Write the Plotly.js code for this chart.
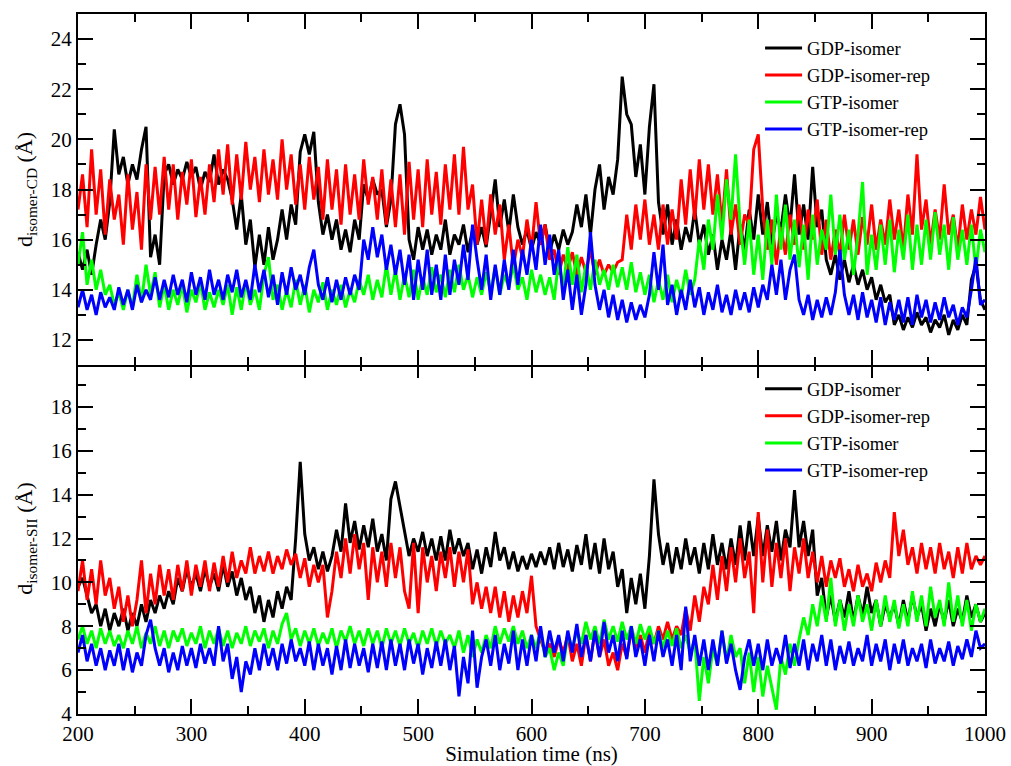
<!DOCTYPE html>
<html>
<head>
<meta charset="utf-8">
<script src="https://cdn.plot.ly/plotly-3.0.1.min.js"></script>
<style>html,body{margin:0;padding:0;background:#fff;}#chart{width:1011px;height:766px;}</style>
</head>
<body>
<div id="chart"></div>
<script>
// Sampling of the time axis (ns)
const tStart = 200;
const tStep = 4;

const seriesNames = ["GDP-isomer", "GDP-isomer-rep", "GTP-isomer", "GTP-isomer-rep"];
const seriesColors = ["#000000", "#ff0000", "#00ff00", "#0000ff"];

// ---------- Top panel: d isomer-CD (Å) ----------
const cdGDP = [
15.5,14.8,15.6,14.6,15.8,16.8,16.0,17.5,20.4,18.6,
19.3,18.2,19.0,18.4,19.6,20.5,15.3,16.2,15.0,18.6,
19.0,18.2,18.8,18.4,19.1,18.5,18.9,18.0,18.7,18.3,
19.4,18.2,18.8,18.4,17.6,16.4,17.8,15.8,16.8,14.9,
16.2,15.0,16.5,15.2,16.0,17.2,16.0,17.4,16.6,19.5,
20.2,19.4,20.3,17.5,16.2,17.0,16.0,16.8,15.6,16.4,
15.5,16.8,16.0,18.2,17.6,18.4,17.8,18.0,16.5,17.6,
20.6,21.4,20.2,16.0,15.2,16.5,15.6,16.4,15.4,16.2,
15.6,16.8,15.4,16.2,15.8,16.6,15.5,16.4,15.8,16.5,
15.7,17.0,18.4,16.5,17.6,16.3,17.8,16.5,15.8,16.4,
15.6,16.3,15.8,16.6,15.5,16.2,15.6,16.4,15.8,16.3,
17.4,16.5,17.8,16.2,18.0,19.0,17.2,18.5,17.8,19.2,
22.5,21.0,20.6,18.5,19.8,17.8,20.5,22.2,17.5,16.2,
17.4,15.8,16.8,15.6,16.5,15.9,17.2,15.8,16.6,15.4,
16.2,14.8,16.0,15.2,16.4,14.8,16.6,15.6,17.2,16.0,
17.8,16.2,17.5,15.8,17.0,16.4,17.8,16.5,18.6,16.2,
17.4,16.0,18.9,16.5,17.2,15.2,14.6,15.4,14.4,15.2,
14.3,15.0,14.2,14.8,14.0,14.5,13.6,14.2,13.5,13.8,
12.6,13.0,12.4,12.9,12.5,13.1,12.6,12.9,12.3,12.8,
12.5,13.0,12.2,12.8,12.4,13.0,12.6,14.4,15.0,13.6,
13.2];

const cdGDPrep = [
17.2,18.6,16.5,19.6,17.0,18.8,16.2,18.4,16.8,17.8,
15.8,18.6,16.4,17.9,15.6,19.0,16.8,18.9,17.0,19.3,
17.2,19.0,16.8,18.7,17.4,19.2,16.9,18.5,17.0,19.0,
17.5,19.6,17.8,19.8,17.4,19.4,17.6,19.9,18.0,19.3,
17.5,19.6,17.8,19.2,17.6,20.0,18.0,19.4,17.4,19.0,
17.2,19.3,17.6,18.9,16.8,19.2,17.2,18.8,16.6,19.0,
17.0,18.6,16.8,19.2,17.4,18.5,16.8,18.8,16.6,18.4,
16.5,18.6,16.2,19.1,16.8,18.8,16.5,19.2,17.0,18.7,
16.6,19.0,17.2,19.4,17.0,19.7,17.2,18.2,15.8,17.6,
15.8,17.8,16.2,17.4,15.2,16.6,14.9,16.0,15.3,16.8,
15.6,17.5,15.8,16.6,15.2,15.6,14.6,15.4,14.8,15.5,
14.6,15.3,14.7,15.6,14.6,15.2,14.6,15.0,14.7,15.1,
15.2,17.0,15.6,17.4,16.0,17.6,15.8,17.0,15.6,17.4,
15.8,17.2,16.0,18.4,16.6,18.8,16.8,19.2,17.2,19.0,
17.0,18.6,16.6,18.8,16.2,17.4,15.8,17.0,16.6,19.6,
20.2,17.2,15.6,16.8,15.0,16.5,15.4,17.0,15.8,17.4,
15.6,17.2,16.0,17.6,15.4,16.8,15.2,16.4,15.4,17.0,
15.6,16.8,15.4,16.9,15.8,17.4,15.6,16.8,15.8,17.6,
16.0,17.2,15.6,17.8,16.2,19.4,16.4,17.6,15.8,17.2,
16.0,18.2,16.2,17.0,15.6,17.4,16.0,17.2,16.2,17.7,
16.4];

const cdGTP = [
15.0,16.3,14.2,15.2,14.0,14.8,13.8,14.2,13.4,13.9,
13.2,14.0,13.3,14.6,13.5,15.0,13.8,14.7,13.3,14.2,
13.2,14.0,13.4,14.2,13.1,14.0,13.5,14.3,13.2,13.9,
13.3,14.0,13.4,14.2,13.0,14.1,13.2,14.3,13.4,14.0,
13.2,14.6,15.3,13.6,14.2,13.2,14.0,13.3,14.4,13.4,
14.2,13.1,14.0,13.5,14.3,13.2,14.0,13.4,14.2,13.3,
14.0,13.5,14.4,13.8,14.6,13.6,14.4,13.7,15.0,13.8,
14.8,13.6,14.6,13.7,14.8,13.6,14.5,13.8,14.9,13.9,
14.6,13.7,14.8,13.9,15.0,14.0,14.6,13.7,14.5,13.8,
14.7,13.9,14.9,13.8,14.6,14.1,15.0,14.0,14.5,13.6,
14.8,13.9,14.6,13.8,14.5,13.6,15.2,14.0,15.7,14.2,
15.4,13.9,15.0,14.0,15.2,14.2,14.8,14.0,15.0,14.1,
14.9,14.0,15.1,13.9,14.7,13.8,14.6,13.5,14.4,13.6,
14.6,13.5,14.4,13.7,14.8,13.8,14.4,16.0,14.8,16.8,
15.6,17.8,16.0,18.4,16.8,19.4,16.6,15.0,16.8,14.6,
16.2,14.4,16.8,15.0,17.8,15.6,17.4,15.2,16.8,14.9,
16.6,14.4,17.0,15.0,16.4,15.6,17.8,15.4,17.0,15.2,
16.4,14.6,16.2,18.3,14.6,16.2,14.8,16.6,15.0,16.8,
14.7,16.4,15.2,17.0,14.8,16.6,15.0,16.8,15.2,17.1,
15.4,16.6,14.8,16.9,15.2,16.4,15.0,16.6,14.8,16.4,
15.5];

const cdGTPrep = [
13.3,14.0,13.2,13.8,13.0,13.9,13.3,13.7,13.2,14.1,
13.4,14.0,13.2,14.2,13.5,14.0,13.6,14.5,13.6,14.4,
13.7,14.6,13.8,14.4,13.5,14.7,13.8,14.5,13.6,14.8,
13.8,14.4,13.6,14.6,13.9,14.8,13.7,14.4,13.6,15.0,
13.9,14.8,13.7,14.6,13.4,14.7,13.8,14.9,14.0,14.6,
13.8,14.9,15.6,14.2,13.6,14.5,13.5,14.4,13.6,14.5,
13.8,14.6,14.0,16.0,15.2,16.5,15.3,16.2,14.8,15.8,
14.6,15.6,14.2,15.4,13.6,15.2,14.0,15.6,13.8,15.0,
13.6,15.4,13.8,15.2,14.2,15.8,14.4,16.6,15.2,14.0,
15.4,13.6,15.0,13.8,15.2,14.0,15.6,14.2,15.6,14.6,
16.0,14.8,16.6,15.0,16.2,14.6,15.6,13.6,14.8,13.2,
14.6,13.0,14.2,16.3,14.2,13.2,14.0,12.9,13.8,12.8,
13.6,12.7,13.5,12.8,13.4,12.9,13.8,15.5,14.0,15.8,
13.4,14.2,13.0,14.0,13.2,14.4,13.3,14.1,13.0,13.9,
13.2,14.2,13.1,13.8,13.0,14.0,13.2,13.9,13.1,14.1,
13.3,14.2,13.6,15.0,13.8,15.2,13.6,14.8,15.4,13.6,
13.0,13.8,12.8,13.6,12.9,13.7,13.0,13.9,15.6,13.8,
13.0,13.8,12.8,13.9,12.9,13.6,12.7,13.7,12.6,13.5,
12.8,13.6,12.7,13.7,12.6,13.8,12.9,13.6,12.7,13.5,
12.8,13.7,12.9,13.4,12.6,13.3,12.9,14.0,15.3,13.4,
13.6];

// ---------- Bottom panel: d isomer-SII (Å) ----------
const siiGDP = [
9.8,10.2,9.4,8.6,9.0,8.0,8.8,7.8,8.6,8.0,
8.8,7.8,8.6,8.0,9.0,8.2,9.2,8.6,9.4,8.8,
9.6,9.0,10.2,9.6,10.6,9.8,10.4,9.6,10.6,9.8,
10.4,9.6,10.8,9.8,10.5,9.4,10.2,9.2,9.8,8.6,
9.4,8.2,9.2,8.4,9.6,8.8,9.8,9.2,12.0,15.5,
12.2,11.0,11.6,10.6,11.4,10.5,11.2,12.4,11.4,13.6,
11.8,12.8,11.5,12.6,11.6,12.9,11.4,12.2,11.0,13.8,
14.6,13.4,12.2,11.2,12.0,11.4,12.3,11.2,12.0,11.0,
12.1,11.0,12.4,11.3,12.0,11.2,11.8,10.6,11.5,10.4,
11.6,10.7,12.3,11.0,11.6,10.6,11.4,10.5,11.2,10.6,
11.3,10.7,11.4,10.8,11.6,10.6,11.8,10.7,11.5,10.5,
11.7,10.8,12.2,10.6,11.8,10.4,12.0,10.6,11.4,9.8,
10.6,8.6,10.2,9.0,10.4,8.8,11.2,14.7,12.2,10.8,
11.8,10.4,11.6,10.6,12.0,10.8,11.6,10.4,11.8,10.6,
12.2,10.8,11.8,10.6,12.0,10.8,12.6,11.0,12.8,11.2,
13.0,11.2,12.6,11.4,12.8,11.0,12.4,11.6,14.2,11.6,
12.8,11.2,12.4,9.4,10.2,8.4,9.4,8.2,9.2,8.4,
9.6,8.2,9.4,8.5,9.8,8.6,9.2,8.0,9.0,8.4,
9.0,8.0,9.2,8.2,9.4,8.4,9.0,7.8,8.8,8.0,
9.0,8.2,9.2,8.0,8.8,8.2,9.4,8.4,9.0,8.2,
8.6];

const siiGDPrep = [
9.6,11.0,9.2,10.6,9.0,11.0,9.4,10.2,8.8,9.8,
8.2,9.4,8.0,9.2,11.0,8.6,10.4,9.0,10.8,9.4,
10.6,9.2,10.8,9.6,11.0,9.4,10.8,9.8,11.0,9.6,
10.9,9.8,11.2,10.0,11.4,10.2,11.0,10.4,11.6,10.4,
11.2,10.5,11.4,10.4,11.2,10.6,11.5,10.8,11.3,10.2,
11.1,9.8,10.8,10.0,10.8,8.4,9.6,11.4,10.2,12.0,
10.4,12.2,10.6,11.8,9.2,11.6,10.0,11.4,9.8,11.8,
10.2,11.6,9.6,8.8,11.8,8.6,11.6,10.0,11.2,9.6,
11.4,10.2,11.6,9.8,11.4,10.0,11.5,9.0,10.0,8.8,
9.8,8.6,9.8,8.4,9.6,8.2,9.4,8.4,9.6,8.6,
10.3,8.0,7.4,6.8,7.2,6.6,7.4,6.8,7.6,6.4,
7.2,6.2,7.6,6.4,7.8,6.6,7.4,6.2,6.8,6.0,
7.2,6.6,7.8,7.0,7.6,6.8,7.8,7.2,8.0,7.4,
8.2,7.4,8.0,7.6,8.8,7.8,9.4,8.2,9.8,9.0,
10.8,9.2,11.2,9.6,11.6,10.0,12.0,10.2,11.4,8.6,
13.2,10.0,12.4,9.8,11.8,10.2,12.0,9.6,11.6,10.4,
12.0,10.2,11.4,10.0,11.2,9.8,11.0,10.2,11.1,9.8,
10.6,9.6,10.8,9.8,10.4,9.6,10.9,10.0,11.0,10.2,
13.2,11.2,12.4,10.8,11.6,10.4,11.8,10.6,11.6,10.4,
11.8,10.6,11.4,10.2,11.6,10.4,11.8,10.6,11.2,10.8,
11.2];

const siiGTP = [
7.4,8.0,7.2,7.8,7.0,7.9,7.2,7.8,7.1,7.6,
7.0,7.8,7.2,8.0,7.0,7.7,7.2,8.0,7.1,7.8,
7.0,7.8,7.3,7.9,7.1,7.7,7.2,8.0,7.0,7.8,
7.2,7.9,7.1,7.8,7.0,7.7,7.2,8.0,7.1,7.8,
7.3,7.9,7.0,7.8,7.2,8.1,8.6,7.4,7.9,7.1,
7.8,7.2,7.9,7.1,7.7,7.2,7.9,7.0,7.8,7.3,
8.0,7.2,7.8,7.1,7.9,7.2,7.8,7.0,7.9,7.2,
7.8,7.1,7.9,7.2,7.7,7.0,7.8,7.2,7.9,7.1,
7.8,7.2,7.6,7.0,7.8,6.8,7.6,6.6,7.4,6.8,
7.6,7.0,8.0,7.2,7.9,7.3,8.0,7.2,7.8,7.0,
7.6,7.0,7.8,6.6,7.0,6.0,6.8,6.2,7.6,7.0,
7.8,7.2,8.2,7.4,8.0,7.2,8.3,7.4,8.0,7.3,
8.2,7.4,8.0,7.2,8.1,7.4,8.0,7.2,7.8,7.0,
7.8,7.1,7.9,7.0,7.6,6.8,7.4,4.6,6.6,5.4,
7.0,6.2,7.8,6.4,7.6,6.6,7.0,5.4,6.8,5.0,
6.6,4.8,6.2,5.2,4.2,6.6,5.8,7.2,6.2,7.4,
8.4,7.6,9.0,8.0,9.4,8.2,10.2,8.0,9.2,7.8,
9.0,8.0,9.4,8.2,9.0,7.8,9.2,8.0,9.4,8.2,
9.2,7.9,9.0,8.0,9.6,8.2,9.4,8.0,9.8,8.4,
9.2,8.0,10.0,8.2,9.4,8.0,9.2,7.8,9.0,8.2,
8.8];

const siiGTPrep = [
6.8,7.6,6.4,7.2,6.2,7.0,6.0,6.9,6.2,7.2,
6.0,7.0,5.9,6.8,6.2,7.6,8.3,7.0,6.2,7.0,
5.9,6.8,6.0,7.1,6.2,7.0,6.1,7.2,6.3,7.0,
6.2,8.0,6.4,7.2,5.6,6.6,5.0,6.4,5.8,7.0,
6.0,7.2,6.2,7.0,6.0,7.2,6.3,7.4,6.4,7.0,
6.2,7.3,6.0,7.2,6.2,7.0,5.8,7.1,6.0,7.4,
6.1,7.2,6.2,7.0,5.9,7.2,6.1,7.3,6.0,7.4,
6.2,7.2,6.0,7.4,6.3,7.2,5.8,7.0,6.1,7.3,
6.2,7.4,6.0,7.1,4.8,6.6,5.4,7.8,5.2,6.6,
7.4,6.2,7.6,6.0,7.2,6.3,7.8,6.0,7.4,6.2,
7.6,6.4,8.0,6.6,7.8,6.8,7.6,6.4,7.8,6.8,
8.1,6.6,7.6,6.4,7.8,6.6,8.2,6.8,7.6,6.4,
7.8,6.5,8.0,6.6,7.4,6.2,7.6,6.4,7.8,6.6,
7.4,6.2,7.6,6.0,8.9,6.4,7.6,6.2,7.4,6.0,
7.4,6.2,7.8,6.3,7.2,6.0,5.1,6.6,7.4,6.2,
7.2,6.0,7.4,6.2,7.0,6.3,7.6,6.1,7.2,6.2,
7.4,6.0,7.2,6.4,7.6,6.2,7.4,6.0,7.1,6.3,
7.3,6.2,7.0,6.4,7.6,6.2,7.2,6.4,7.4,6.0,
7.2,6.3,7.4,6.2,7.0,6.4,7.2,6.1,7.4,6.3,
7.0,6.4,7.3,6.2,7.1,6.5,7.4,6.6,7.8,7.0,
7.2];

// Axis ticks
const xTicks = [200, 300, 400, 500, 600, 700, 800, 900, 1000];
const topYTicks = [12, 14, 16, 18, 20, 22, 24];
const botYTicks = [4, 6, 8, 10, 12, 14, 16, 18, 20];
const botYTickText = ["4", "6", "8", "10", "12", "14", "16", "18", ""];

const FONT = "Liberation Serif";
const topData = [cdGDP, cdGDPrep, cdGTP, cdGTPrep];
const botData = [siiGDP, siiGDPrep, siiGTP, siiGTPrep];

const traces = [];
topData.forEach((ys, i) => {
  traces.push({
    type: "scatter", mode: "lines", x0: tStart, dx: tStep, y: ys,
    xaxis: "x2", yaxis: "y2", name: seriesNames[i], legend: "legend",
    line: {color: seriesColors[i], width: 3}
  });
});
botData.forEach((ys, i) => {
  traces.push({
    type: "scatter", mode: "lines", x0: tStart, dx: tStep, y: ys,
    xaxis: "x", yaxis: "y", name: seriesNames[i], legend: "legend2",
    line: {color: seriesColors[i], width: 3}
  });
});

const axisCommon = {
  showline: true, linecolor: "#000", linewidth: 2, mirror: "ticks",
  ticks: "inside", ticklen: 15, tickwidth: 2, tickcolor: "#000",
  showgrid: false, zeroline: false, automargin: false,
  tickfont: {family: FONT, size: 21, color: "#000"}
};

const legendCommon = {
  bgcolor: "rgba(0,0,0,0)", borderwidth: 0,
  font: {family: FONT, size: 18.5, color: "#000"},
  xanchor: "left", yanchor: "top", tracegroupgap: 0, itemwidth: 37
};

const minorX = {dtick: 50, ticklen: 8, tickwidth: 2, tickcolor: "#000", ticks: "inside"};
const minorY = {dtick: 1, ticklen: 8, tickwidth: 2, tickcolor: "#000", ticks: "inside"};
const half = 1 / 700;

const layout = {
  width: 1011, height: 766,
  margin: {l: 78, r: 26, t: 14, b: 52},
  paper_bgcolor: "#fff", plot_bgcolor: "#fff",
  font: {family: FONT, color: "#000"},
  xaxis: Object.assign({}, axisCommon, {
    range: [200, 1000], tickvals: xTicks, anchor: "y", domain: [0, 1],
    minor: minorX,
    title: {text: "Simulation time (ns)", font: {family: FONT, size: 21, color: "#000"}, standoff: 4}
  }),
  xaxis2: Object.assign({}, axisCommon, {
    range: [200, 1000], tickvals: xTicks, anchor: "y2", matches: "x", showticklabels: false,
    minor: minorX
  }),
  yaxis: Object.assign({}, axisCommon, {
    range: [4, 20], domain: [0, 0.5 + half], anchor: "x",
    tickvals: botYTicks, ticktext: botYTickText,
    minor: minorY,
    title: {text: "d<sub>isomer-SII</sub> (Å)", font: {family: FONT, size: 22, color: "#000"}, standoff: 12}
  }),
  yaxis2: Object.assign({}, axisCommon, {
    range: [11, 25], domain: [0.5 - half, 1], anchor: "x2",
    tickvals: topYTicks,
    minor: minorY,
    title: {text: "d<sub>isomer-CD</sub> (Å)", font: {family: FONT, size: 22, color: "#000"}, standoff: 12}
  }),
  legend: Object.assign({}, legendCommon, {x: 0.752, y: 0.978}),
  legend2: Object.assign({}, legendCommon, {x: 0.752, y: 0.491}),
  showlegend: true
};

Plotly.newPlot("chart", traces, layout, {displayModeBar: false, staticPlot: true});
</script>
</body>
</html>
